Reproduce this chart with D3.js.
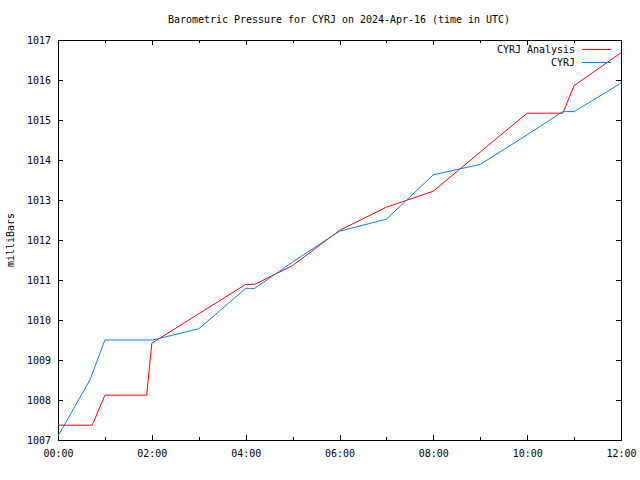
<!DOCTYPE html>
<html>
<head>
<meta charset="utf-8">
<script src="https://cdn.jsdelivr.net/npm/d3@7"></script>
<style>
  html, body { margin: 0; padding: 0; background: #fff; }
  svg { display: block; }
  text { font-family: "DejaVu Sans Mono", "Liberation Mono", monospace; font-size: 11px; fill: #000; }
</style>
</head>
<body>
<svg id="chart" width="640" height="480"></svg>
<script>
// ---- data (hours after 00:00 UTC, pressure in mb) ----
const titleText = "Barometric Pressure for CYRJ on 2024-Apr-16 (time in UTC)";
const yAxisLabel = "milliBars";
const seriesNames = ["CYRJ Analysis", "CYRJ"];
const seriesColors = ["#ff0000", "#0080ff"];

const analysisHours  = [0, 0.73, 1, 1.89, 2, 4, 4.19, 5, 6, 7, 8, 9, 10, 10.76, 11, 12];
const analysisValues = [1007.37, 1007.37, 1008.12, 1008.12, 1009.42, 1010.89, 1010.89, 1011.36, 1012.24, 1012.82, 1013.22, 1014.2, 1015.17, 1015.17, 1015.86, 1016.68];

const obsHours  = [0, 0.68, 1, 2.02, 3, 4, 4.19, 5, 6, 7, 8, 9, 10, 10.76, 11, 12];
const obsValues = [1007.1, 1008.5, 1009.5, 1009.5, 1009.78, 1010.79, 1010.79, 1011.45, 1012.22, 1012.52, 1013.63, 1013.89, 1014.63, 1015.21, 1015.21, 1015.92];

const xMajorTicks = [0, 2, 4, 6, 8, 10, 12];
const xMinorTicks = [1, 3, 5, 7, 9, 11];
const xTickLabels = ["00:00", "02:00", "04:00", "06:00", "08:00", "10:00", "12:00"];
const yTicks = [1007, 1008, 1009, 1010, 1011, 1012, 1013, 1014, 1015, 1016, 1017];

// ---- layout ----
const L = 58, R = 621, T = 40, B = 440;
const CW = 6; // character cell width of the monospace look

const svg = d3.select("#chart");
const x = d3.scaleLinear().domain([0, 12]).range([L, R]);
const y = d3.scaleLinear().domain([1007, 1017]).range([B, T]);

function fitText(sel) {
  sel.each(function() {
    const t = d3.select(this);
    const n = t.text().length;
    t.attr("textLength", n * CW).attr("lengthAdjust", "spacingAndGlyphs");
  });
  return sel;
}

// title
fitText(svg.append("text")
  .attr("x", 339).attr("y", 23)
  .attr("text-anchor", "middle")
  .text(titleText));

// y axis label
fitText(svg.append("text")
  .attr("transform", "translate(14,240) rotate(-90)")
  .attr("text-anchor", "middle")
  .text(yAxisLabel));

// axes with inward ticks
const gx = svg.append("g").attr("transform", `translate(0,${B})`)
  .call(d3.axisBottom(x).tickValues(xMajorTicks).tickSize(-5).tickPadding(17)
    .tickFormat((d, i) => xTickLabels[i]));
const gxMinor = svg.append("g").attr("transform", `translate(0,${B})`)
  .call(d3.axisBottom(x).tickValues(xMinorTicks).tickSize(-3).tickFormat(""));
const gxTop = svg.append("g").attr("transform", `translate(0,${T})`)
  .call(d3.axisTop(x).tickValues(xMajorTicks).tickSize(-5).tickFormat(""));
const gxTopMinor = svg.append("g").attr("transform", `translate(0,${T})`)
  .call(d3.axisTop(x).tickValues(xMinorTicks).tickSize(-3).tickFormat(""));
const gy = svg.append("g").attr("transform", `translate(${L},0)`)
  .call(d3.axisLeft(y).tickValues(yTicks).tickSize(-5).tickPadding(7).tickFormat(d3.format("d")));
const gyR = svg.append("g").attr("transform", `translate(${R},0)`)
  .call(d3.axisRight(y).tickValues(yTicks).tickSize(-5).tickFormat(""));

[gx, gxMinor, gxTop, gxTopMinor, gy, gyR].forEach(g => {
  g.select(".domain").remove();
  g.selectAll("line").attr("stroke", "#000").attr("shape-rendering", "crispEdges");
  g.selectAll("text").attr("font-family", null).attr("font-size", null).attr("fill", "#000");
});
gx.selectAll("text").attr("dy", null).call(fitText);
gy.selectAll("text").attr("dy", "0.36em").call(fitText);

// border
svg.append("rect")
  .attr("x", L + 0.5).attr("y", T + 0.5)
  .attr("width", R - L).attr("height", B - T)
  .attr("fill", "none").attr("stroke", "#000").attr("stroke-width", 1)
  .attr("shape-rendering", "crispEdges");

// series
const line = d3.line().x(d => x(d[0])).y(d => y(d[1]));
const series = [
  analysisHours.map((h, i) => [h, analysisValues[i]]),
  obsHours.map((h, i) => [h, obsValues[i]])
];
series.forEach((s, i) => {
  svg.append("path").datum(s)
    .attr("d", line)
    .attr("fill", "none")
    .attr("stroke", seriesColors[i])
    .attr("stroke-width", 1);
});

// legend
const legendY = [49, 62];
seriesNames.forEach((name, i) => {
  fitText(svg.append("text")
    .attr("x", 575).attr("y", legendY[i] + 4)
    .attr("text-anchor", "end")
    .text(name));
  svg.append("line")
    .attr("x1", 582).attr("x2", 611)
    .attr("y1", legendY[i] + 0.5).attr("y2", legendY[i] + 0.5)
    .attr("stroke", seriesColors[i]).attr("stroke-width", 1)
    .attr("shape-rendering", "crispEdges");
});
</script>
</body>
</html>
